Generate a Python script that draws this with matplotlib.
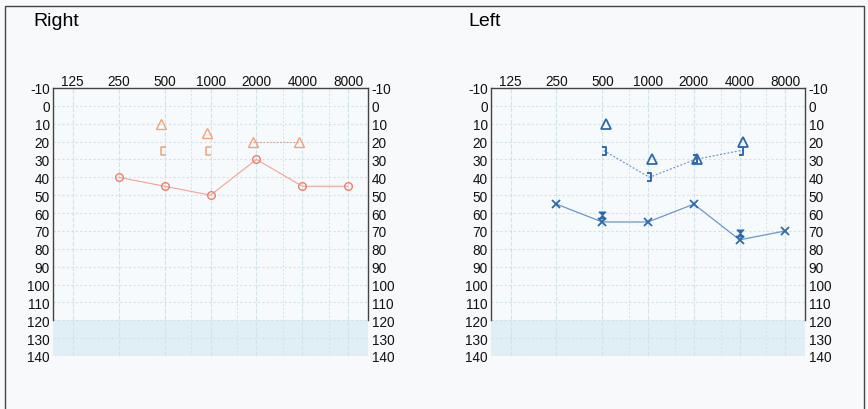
import numpy as np
import matplotlib
matplotlib.use("Agg")
import matplotlib.pyplot as plt
import matplotlib.transforms as mtransforms
from matplotlib.path import Path
from matplotlib.patches import Rectangle

plt.rcParams["font.family"] = ["Liberation Sans", "DejaVu Sans"]

# --- data ---
tick_freqs = [125, 250, 500, 1000, 2000, 4000, 8000]
mid_freqs = [750, 1500, 3000, 6000]
db_ticks = list(range(-10, 141, 10))

air_freqs = [250, 500, 1000, 2000, 4000, 8000]
right_air = [40, 45, 50, 30, 45, 45]
left_air = [55, 65, 65, 55, 75, 70]

tri_freqs = [500, 1000, 2000, 4000]
right_tri = [10, 15, 20, 20]
left_tri = [10, 30, 30, 20]

right_bone_freqs = [500, 1000]
right_bone = [25, 25]
left_bone_freqs = [500, 1000, 2000, 4000]
left_bone = [25, 40, 30, 25]

left_mask_freqs = [500, 4000]
left_mask = [61, 71]

RED = "#ec7f6c"
RED_LINE = "#f2a394"
ORANGE = "#f0a27a"
BLUE = "#2d6aac"
BLUE_LINE = "#6b97c8"
GRID = "#d3e1e8"
BAND = "#e0eff6"


def oct(freqs):
    return np.log2(np.asarray(freqs, dtype=float) / 125.0)


# bracket / hourglass marker shapes
bracket_left = Path([(0.6, 1), (-0.4, 1), (-0.4, -1), (0.6, -1)],
                    [Path.MOVETO, Path.LINETO, Path.LINETO, Path.LINETO])
bracket_right = Path([(-0.6, 1), (0.4, 1), (0.4, -1), (-0.6, -1)],
                     [Path.MOVETO, Path.LINETO, Path.LINETO, Path.LINETO])
hourglass = Path([(-1, 1), (1, 1), (-1, -1), (1, -1), (-1, 1)],
                 [Path.MOVETO, Path.LINETO, Path.LINETO, Path.LINETO, Path.CLOSEPOLY])


def setup_axes(ax):
    ax.set_facecolor("#f7fafc")
    ax.set_xlim(-0.43, 6.43)
    ax.set_ylim(140, -10)
    ax.axhspan(120, 140, color=BAND, zorder=0, lw=0)
    for y in db_ticks:
        ax.axhline(y, color=GRID, lw=0.8, ls=(0, (2, 2)), zorder=1)
    for x in oct(tick_freqs):
        ax.axvline(x, color=GRID, lw=0.8, ls=(0, (4, 1.5)), zorder=1)
    for x in oct(mid_freqs):
        ax.axvline(x, color=GRID, lw=0.7, ls=(0, (2, 2)), zorder=1)

    ax.xaxis.tick_top()
    ax.set_xticks(oct(tick_freqs))
    ax.set_xticklabels([str(f) for f in tick_freqs])
    ax.set_yticks(db_ticks)
    ax.set_yticklabels([str(v) for v in db_ticks])
    ax.tick_params(axis="both", length=0, labelsize=9.8, colors="#111111")
    ax.tick_params(axis="x", pad=0)
    ax.tick_params(axis="y", left=False, right=False, labelleft=True,
                   labelright=True, pad=2.5)
    for side in ("left", "right", "top"):
        ax.spines[side].set_color("#444444")
        ax.spines[side].set_linewidth(1.0)
    ax.spines["left"].set_bounds(-10, 120)
    ax.spines["right"].set_bounds(-10, 120)
    ax.spines["bottom"].set_visible(False)


fig = plt.figure(figsize=(8.68, 4.10), dpi=100, facecolor="#f7f9fa")

ax_r = fig.add_axes([0.0611, 0.1293, 0.3629, 0.6537])
ax_l = fig.add_axes([0.5657, 0.1293, 0.3618, 0.6537])
setup_axes(ax_r)
setup_axes(ax_l)

fig.text(33 / 868, 1 - 21 / 410, "Right", fontsize=14, va="center", ha="left")
fig.text(468 / 868, 1 - 21 / 410, "Left", fontsize=14, va="center", ha="left")

# --- right ear ---
shift_l = mtransforms.offset_copy(ax_r.transData, fig=fig, x=-2.5, y=0, units="points")
shift_lb = mtransforms.offset_copy(ax_r.transData, fig=fig, x=-1.5, y=0, units="points")
ax_r.plot(oct(air_freqs), right_air, color=RED_LINE, lw=0.8, zorder=3)
ax_r.plot(oct(air_freqs), right_air, ls="none", marker="o", ms=5.5,
          mfc="none", mec=RED, mew=1.0, zorder=4)
ax_r.plot(oct(tri_freqs), right_tri, ls="none", marker="^", ms=6.5, mfc="none",
          mec=ORANGE, mew=1.0, transform=shift_l, zorder=4)
ax_r.plot(oct(tri_freqs[2:]), right_tri[2:], color="#c4a49a", lw=0.8,
          ls=(0, (1.5, 1.5)), transform=shift_l, zorder=3)
ax_r.plot(oct(right_bone_freqs), right_bone, ls="none", marker=bracket_left, ms=6,
          mfc="none", mec=ORANGE, mew=1.1, transform=shift_lb, zorder=4)

# --- left ear ---
shift_r = mtransforms.offset_copy(ax_l.transData, fig=fig, x=2.5, y=0, units="points")
shift_rb = mtransforms.offset_copy(ax_l.transData, fig=fig, x=1.0, y=0, units="points")
ax_l.plot(oct(air_freqs), left_air, color=BLUE_LINE, lw=0.9, zorder=3)
ax_l.plot(oct(air_freqs), left_air, ls="none", marker="x", ms=6, mec=BLUE,
          mew=1.3, zorder=4)
ax_l.plot(oct(left_mask_freqs), left_mask, ls="none", marker=hourglass, ms=5,
          mfc=BLUE, mec=BLUE, mew=0.8, zorder=5)
ax_l.plot(oct(left_bone_freqs), left_bone, color=BLUE_LINE, lw=0.9,
          ls=(0, (1.5, 1.5)), marker=bracket_right, ms=6, mfc="none", mec=BLUE,
          mew=1.4, transform=shift_rb, zorder=4)
ax_l.plot(oct(tri_freqs), left_tri, ls="none", marker="^", ms=7, mfc="none",
          mec=BLUE, mew=1.3, transform=shift_r, zorder=4)

# outer frame of the scanned sheet
fig.patches.append(Rectangle((5 / 868, -0.02), 859 / 868, 1 - 7 / 410 + 0.02,
                             transform=fig.transFigure, fill=False,
                             ec="#444444", lw=1.0))

fig.savefig("out.png", dpi=100, facecolor=fig.get_facecolor())
